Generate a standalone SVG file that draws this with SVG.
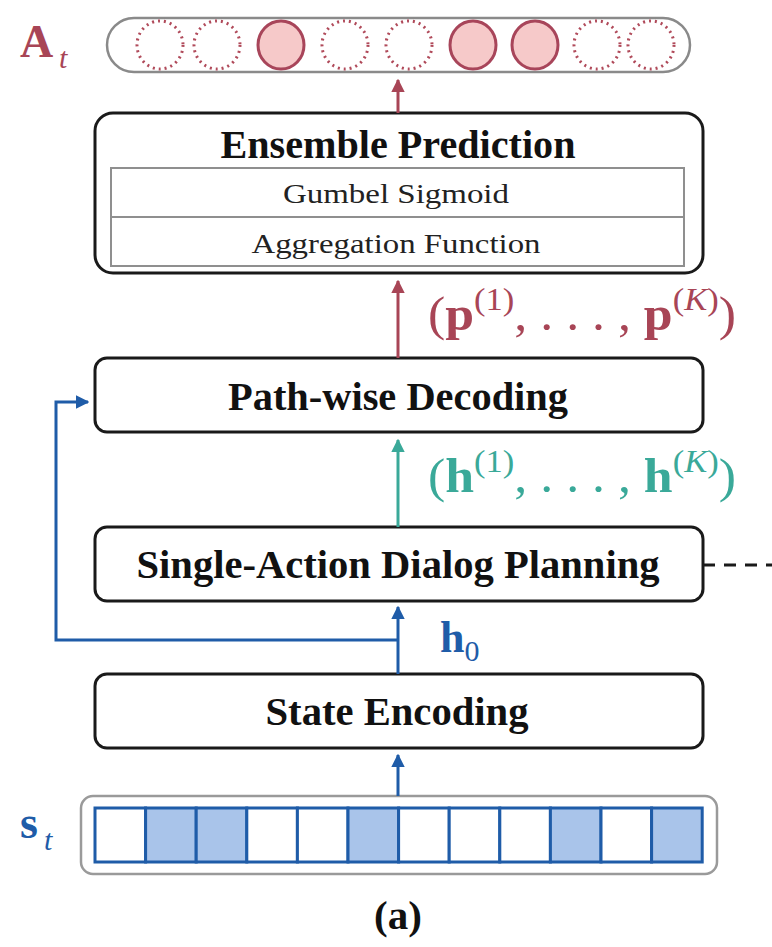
<svg xmlns="http://www.w3.org/2000/svg" width="772" height="947" viewBox="0 0 772 947">
  <style>
    .box { fill: #ffffff; stroke: #1a1a1a; stroke-width: 3; }
    .title { font-family: "Liberation Serif", serif; font-weight: bold; font-size: 41px; fill: #111; text-anchor: middle; }
    .sub { font-family: "Liberation Serif", serif; font-size: 28px; fill: #222; text-anchor: middle; }
    .math { font-family: "Liberation Serif", serif; }
    .red { fill: #a84556; }
    .teal { fill: #3aa999; }
    .blue { fill: #1f5ca8; }
    .act-off { fill: none; stroke: #b04a5a; stroke-width: 3; stroke-dasharray: 2 4; }
    .act-on { fill: #f6c9c9; stroke: #a8455a; stroke-width: 3; }
    .cell { stroke: #1f5ca8; stroke-width: 3; }
  </style>
  <defs>
    <marker id="ahRed" viewBox="0 0 10 10" refX="9" refY="5" markerWidth="4.5" markerHeight="4.5" orient="auto">
      <path d="M0,0 L10,5 L0,10 Z" fill="#a84556"/>
    </marker>
    <marker id="ahTeal" viewBox="0 0 10 10" refX="9" refY="5" markerWidth="4.5" markerHeight="4.5" orient="auto">
      <path d="M0,0 L10,5 L0,10 Z" fill="#3aa999"/>
    </marker>
    <marker id="ahBlue" viewBox="0 0 10 10" refX="9" refY="5" markerWidth="4.5" markerHeight="4.5" orient="auto">
      <path d="M0,0 L10,5 L0,10 Z" fill="#1f5ca8"/>
    </marker>
  </defs>

  <!-- action vector A_t -->
  <g id="action-vector">
    <text class="math red" x="20" y="57" font-size="46" font-weight="bold">A</text>
    <text class="math red" x="59" y="68" font-size="30" font-style="italic">t</text>
    <rect x="107" y="18" width="583" height="54" rx="27" fill="#fff" stroke="#8a8a8a" stroke-width="2.5"/>
    <ellipse class="act-off" cx="160" cy="45" rx="23" ry="24"/>
    <ellipse class="act-off" cx="217" cy="45" rx="23" ry="24"/>
    <ellipse class="act-on" cx="281" cy="45" rx="23" ry="24"/>
    <ellipse class="act-off" cx="345" cy="45" rx="23" ry="24"/>
    <ellipse class="act-off" cx="409" cy="45" rx="23" ry="24"/>
    <ellipse class="act-on" cx="473" cy="45" rx="23" ry="24"/>
    <ellipse class="act-on" cx="535" cy="45" rx="23" ry="24"/>
    <ellipse class="act-off" cx="597" cy="45" rx="23" ry="24"/>
    <ellipse class="act-off" cx="651" cy="45" rx="23" ry="24"/>
  </g>

  <!-- ensemble prediction -->
  <g id="ensemble-prediction">
    <rect class="box" x="95" y="113" width="608" height="160" rx="18"/>
    <text class="title" x="398" y="158" textLength="355" lengthAdjust="spacingAndGlyphs">Ensemble Prediction</text>
    <rect x="111" y="168" width="573" height="98" fill="#fff" stroke="#8f8f8f" stroke-width="2"/>
    <line x1="111" y1="217" x2="684" y2="217" stroke="#8f8f8f" stroke-width="2"/>
    <text class="sub" x="396" y="203" textLength="226" lengthAdjust="spacingAndGlyphs">Gumbel Sigmoid</text>
    <text class="sub" x="396" y="253" textLength="289" lengthAdjust="spacingAndGlyphs">Aggregation Function</text>
  </g>

  <!-- path-wise decoding -->
  <g id="path-wise-decoding">
    <rect class="box" x="95" y="358" width="608" height="74" rx="12"/>
    <text class="title" x="398" y="410" textLength="340" lengthAdjust="spacingAndGlyphs">Path-wise Decoding</text>
  </g>

  <!-- single-action dialog planning -->
  <g id="single-action-planning">
    <rect class="box" x="95" y="527" width="608" height="74" rx="12"/>
    <text class="title" x="398" y="578" textLength="523" lengthAdjust="spacingAndGlyphs">Single-Action Dialog Planning</text>
  </g>

  <!-- state encoding -->
  <g id="state-encoding">
    <rect class="box" x="95" y="674" width="608" height="74" rx="12"/>
    <text class="title" x="397" y="725" textLength="263" lengthAdjust="spacingAndGlyphs">State Encoding</text>
  </g>

  <!-- state vector s_t -->
  <g id="state-vector">
    <text class="math blue" x="20" y="838" font-size="46" font-weight="bold">s</text>
    <text class="math blue" x="44" y="850" font-size="30" font-style="italic">t</text>
    <rect x="81" y="796" width="636" height="78" rx="12" fill="#fff" stroke="#9a9a9a" stroke-width="2.5"/>
    <rect class="cell" x="95" y="808" width="50.6" height="54" fill="#fff"/>
    <rect class="cell" x="145.6" y="808" width="50.6" height="54" fill="#a9c4ea"/>
    <rect class="cell" x="196.2" y="808" width="50.6" height="54" fill="#a9c4ea"/>
    <rect class="cell" x="246.8" y="808" width="50.6" height="54" fill="#fff"/>
    <rect class="cell" x="297.4" y="808" width="50.6" height="54" fill="#fff"/>
    <rect class="cell" x="348" y="808" width="50.6" height="54" fill="#a9c4ea"/>
    <rect class="cell" x="398.6" y="808" width="50.6" height="54" fill="#fff"/>
    <rect class="cell" x="449.2" y="808" width="50.6" height="54" fill="#fff"/>
    <rect class="cell" x="499.8" y="808" width="50.6" height="54" fill="#fff"/>
    <rect class="cell" x="550.4" y="808" width="50.6" height="54" fill="#a9c4ea"/>
    <rect class="cell" x="601" y="808" width="50.6" height="54" fill="#fff"/>
    <rect class="cell" x="651.6" y="808" width="50.6" height="54" fill="#a9c4ea"/>
  </g>

  <!-- connectors -->
  <g id="connectors" fill="none" stroke-width="3">
    <line x1="398" y1="113" x2="398" y2="80" stroke="#a84556" marker-end="url(#ahRed)"/>
    <line x1="398" y1="358" x2="398" y2="281" stroke="#a84556" marker-end="url(#ahRed)"/>
    <line x1="398" y1="527" x2="398" y2="440" stroke="#3aa999" marker-end="url(#ahTeal)"/>
    <line x1="398" y1="674" x2="398" y2="607" stroke="#1f5ca8" marker-end="url(#ahBlue)"/>
    <polyline points="398,640 56,640 56,402 88,402" stroke="#1f5ca8" marker-end="url(#ahBlue)"/>
    <line x1="398" y1="796" x2="398" y2="755" stroke="#1f5ca8" marker-end="url(#ahBlue)"/>
    <line x1="703" y1="565" x2="772" y2="565" stroke="#1a1a1a" stroke-dasharray="12 9"/>
  </g>

  <!-- connector labels -->
  <g id="labels">
    <text class="math red" x="428" y="330" font-size="48" textLength="308" lengthAdjust="spacingAndGlyphs">(<tspan font-weight="bold">p</tspan><tspan font-size="32" dy="-20">(1)</tspan><tspan dy="20">, . . . , </tspan><tspan font-weight="bold">p</tspan><tspan font-size="32" dy="-20">(<tspan font-style="italic">K</tspan>)</tspan><tspan dy="20">)</tspan></text>
    <text class="math teal" x="428" y="492" font-size="48" textLength="308" lengthAdjust="spacingAndGlyphs">(<tspan font-weight="bold">h</tspan><tspan font-size="32" dy="-20">(1)</tspan><tspan dy="20">, . . . , </tspan><tspan font-weight="bold">h</tspan><tspan font-size="32" dy="-20">(<tspan font-style="italic">K</tspan>)</tspan><tspan dy="20">)</tspan></text>
    <text class="math blue" x="440" y="652" font-size="44" font-weight="bold">h<tspan font-weight="normal" font-size="30" dy="9">0</tspan></text>
  </g>

  <text class="title" x="398" y="929" font-size="35">(a)</text>
</svg>
